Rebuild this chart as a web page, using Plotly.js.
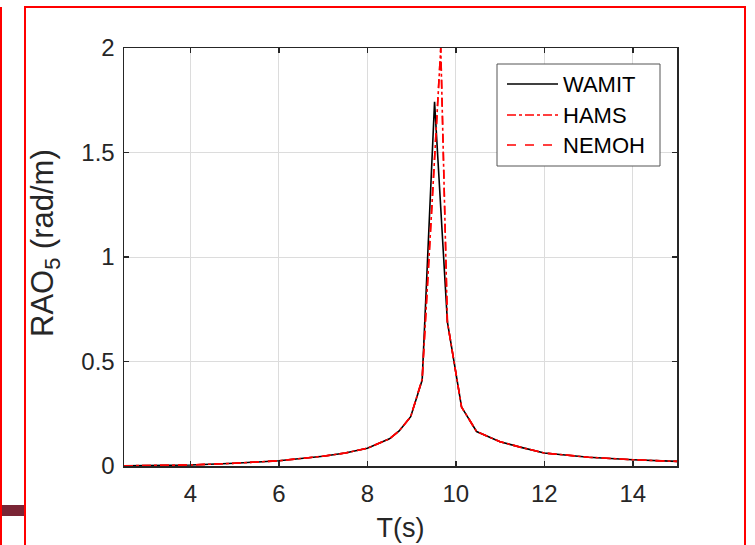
<!DOCTYPE html>
<html>
<head>
<meta charset="utf-8">
<script src="https://cdn.plot.ly/plotly-3.0.1.min.js"></script>
<style>html,body{margin:0;padding:0;background:#fff;}#chart{width:755px;height:545px;}</style>
</head>
<body>
<div id="chart"></div>
<script>
// Data (period T in s, RAO5 in rad/m)
const wamitT = [2.5, 3, 3.5, 4, 5, 6, 7, 7.5, 8, 8.5, 8.72, 8.98, 9.24, 9.52, 9.81, 10.13, 10.47, 11, 11.5, 12, 13, 14, 15];
const wamitV = [0.001, 0.002, 0.003, 0.005, 0.013, 0.025, 0.047, 0.062, 0.085, 0.13, 0.168, 0.236, 0.411, 1.743, 0.689, 0.282, 0.165, 0.116, 0.088, 0.062, 0.042, 0.030, 0.022];
const hamsT = [2.5, 3, 3.5, 4, 5, 6, 7, 7.5, 8, 8.5, 8.72, 8.98, 9.24, 9.66, 9.81, 10.13, 10.47, 11, 11.5, 12, 13, 14, 15];
const hamsV = [0.001, 0.002, 0.003, 0.005, 0.013, 0.025, 0.047, 0.062, 0.085, 0.13, 0.168, 0.236, 0.415, 2.0, 0.69, 0.282, 0.165, 0.116, 0.088, 0.062, 0.042, 0.030, 0.022];
const nemohT = [2.5, 3, 3.5, 4, 5, 6, 7, 7.5, 8, 8.5, 8.72, 8.98, 9.24, 9.66, 9.81, 10.13, 10.47, 11, 11.5, 12, 13, 14, 15];
const nemohV = [0.001, 0.002, 0.003, 0.005, 0.013, 0.025, 0.047, 0.062, 0.085, 0.13, 0.168, 0.236, 0.415, 2.0, 0.69, 0.282, 0.165, 0.116, 0.088, 0.062, 0.042, 0.030, 0.022];
const seriesNames = ['WAMIT', 'HAMS', 'NEMOH'];
const xTicks = [4, 6, 8, 10, 12, 14];
const yTicks = [0, 0.5, 1, 1.5, 2];
const yTickText = ['0', '0.5', '1', '1.5', '2'];

// plot area in pixels
const L = 124, R = 677, T = 48, B = 466;
const px = x => (x - L) / (R - L);
const py = y => (B - y) / (B - T);

const traces = [
  {x: wamitT, y: wamitV, name: seriesNames[0], mode: 'lines', line: {color: '#000000', width: 1.6}, showlegend: false},
  {x: hamsT, y: hamsV, name: seriesNames[1], mode: 'lines', line: {color: '#ff0000', width: 1.6, dash: 'dashdot'}, showlegend: false},
  {x: nemohT, y: nemohV, name: seriesNames[2], mode: 'lines', line: {color: '#ff0000', width: 1.6, dash: 'dash'}, showlegend: false}
];

const fam = 'Arial, "Liberation Sans", sans-serif';
const tickFont = {family: fam, size: 24, color: '#262626'};
const titleFont = {family: fam, size: 27, color: '#262626'};

const shapes = [];
const annotations = [];
// red frames
shapes.push({type: 'rect', xref: 'paper', yref: 'paper', x0: px(25), x1: px(745), y0: py(560), y1: py(7), line: {color: '#ff0000', width: 2}, fillcolor: 'rgba(0,0,0,0)', layer: 'above'});
shapes.push({type: 'line', xref: 'paper', yref: 'paper', x0: px(1), x1: px(1), y0: py(560), y1: py(7), line: {color: '#ff0000', width: 2}});
shapes.push({type: 'rect', xref: 'paper', yref: 'paper', x0: px(2), x1: px(24), y0: py(516), y1: py(505), line: {width: 0}, fillcolor: '#7a2535'});
// legend box
shapes.push({type: 'rect', xref: 'paper', yref: 'paper', x0: px(497), x1: px(660), y0: py(166), y1: py(64), line: {color: '#555555', width: 1}, fillcolor: '#ffffff', layer: 'above'});
const legY = [84, 115, 145];
const legStyle = [{color: '#000000', dash: 'solid'}, {color: '#ff0000', dash: 'dashdot'}, {color: '#ff0000', dash: 'dash'}];
for (let i = 0; i < 3; i++) {
  shapes.push({type: 'line', xref: 'paper', yref: 'paper', x0: px(507), x1: px(558), y0: py(legY[i]), y1: py(legY[i]), line: {color: legStyle[i].color, width: 1.6, dash: legStyle[i].dash}, layer: 'above'});
  annotations.push({xref: 'paper', yref: 'paper', x: px(561), y: py(legY[i]), xanchor: 'left', yanchor: 'middle', text: seriesNames[i], showarrow: false, font: {family: fam, size: 22, color: '#000000'}});
}
// y-axis title
annotations.push({xref: 'paper', yref: 'paper', x: px(45), y: py(243), xanchor: 'center', yanchor: 'middle', textangle: -90, text: 'RAO<sub>5</sub> (rad/m)', showarrow: false, font: {family: fam, size: 31, color: '#262626'}});

const layout = {
  width: 755, height: 545,
  margin: {l: L, r: 755 - R, t: T, b: 545 - B, pad: 0},
  paper_bgcolor: '#ffffff', plot_bgcolor: '#ffffff',
  font: tickFont,
  xaxis: {
    range: [2.5, 15], tickvals: xTicks, ticks: 'inside', ticklen: 5, tickwidth: 1.5, tickcolor: '#262626',
    showline: true, linecolor: '#262626', linewidth: 1.5, mirror: 'ticks', ticklabelstandoff: 6,
    showgrid: true, gridcolor: '#dcdcdc', gridwidth: 1, zeroline: false,
    tickfont: tickFont, title: {text: 'T(s)', font: titleFont, standoff: 12}
  },
  yaxis: {
    range: [0, 2], tickvals: yTicks, ticktext: yTickText, ticks: 'inside', ticklen: 5, tickwidth: 1.5, tickcolor: '#262626',
    showline: true, linecolor: '#262626', linewidth: 1.5, mirror: 'ticks', ticklabelstandoff: 3,
    showgrid: true, gridcolor: '#dcdcdc', gridwidth: 1, zeroline: false,
    tickfont: tickFont
  },
  shapes: shapes,
  annotations: annotations,
  showlegend: false
};

Plotly.newPlot('chart', traces, layout, {staticPlot: true, displayModeBar: false});
</script>
</body>
</html>
